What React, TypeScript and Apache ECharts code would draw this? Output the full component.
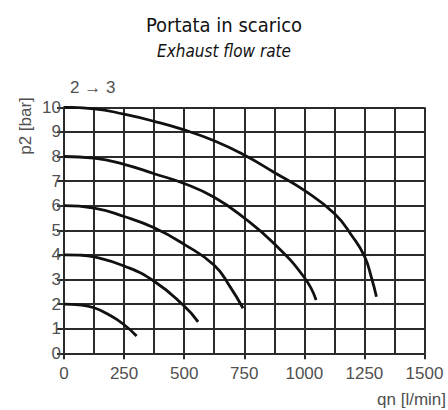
import React, { useEffect, useRef } from "react";
import * as echarts from "echarts";

const titleText = "Portata in scarico";
const subtitleText = "Exhaust flow rate";
const xAxisName = "qn [l/min]";
const yAxisName = "p2 [bar]";
const connectionLabel = "2 → 3";

const xMin = 0;
const xMax = 1500;
const xLabelStep = 250;
const yMin = 0;
const yMax = 10;
const yStep = 1;

const curveP2: [number, number][] = [[0, 2], [62, 1.97], [125, 1.85], [190, 1.55], [249, 1.17], [302, 0.7]];
const curveP4: [number, number][] = [[0, 4], [62, 3.99], [125, 3.92], [250, 3.55], [375, 2.93], [500, 1.92], [558, 1.28]];
const curveP6: [number, number][] = [[0, 6], [125, 5.9], [250, 5.56], [375, 5.1], [500, 4.43], [625, 3.58], [690, 2.72], [745, 1.83]];
const curveP8: [number, number][] = [[0, 8], [125, 7.93], [250, 7.68], [375, 7.3], [500, 6.9], [625, 6.34], [750, 5.5], [875, 4.45], [1000, 3.08], [1049, 2.17]];
const curveP10: [number, number][] = [[0, 10], [125, 9.94], [250, 9.72], [375, 9.43], [500, 9.08], [625, 8.64], [750, 8.06], [875, 7.35], [1000, 6.62], [1125, 5.68], [1200, 4.75], [1250, 3.95], [1280, 3.05], [1300, 2.3]];

const curves = [curveP2, curveP4, curveP6, curveP8, curveP10];

export default function App() {
  const ref = useRef<HTMLDivElement>(null);
  useEffect(() => {
    if (!ref.current) return;
    const chart = echarts.init(ref.current, null, { renderer: "svg" });
    const gridColor = "#2b2b2b";
    const labelColor = "#505050";
    const sans = "'Liberation Sans', Arial, sans-serif";
    const narrow = "'DejaVu Sans Condensed', sans-serif";
    chart.setOption({
      animation: false,
      backgroundColor: "#ffffff",
      title: [
        {
          text: titleText,
          left: "center",
          top: 10,
          textStyle: { fontFamily: narrow, fontSize: 20, fontWeight: "normal", color: "#111" },
        },
        {
          text: subtitleText,
          left: "center",
          top: 37,
          textStyle: { fontFamily: narrow, fontSize: 17, fontWeight: "normal", fontStyle: "italic", color: "#111" },
        },
      ],
      grid: { left: 64, right: 23.5, top: 107.3, bottom: 56.7, containLabel: false },
      xAxis: {
        type: "value",
        min: xMin,
        max: xMax,
        interval: xLabelStep,
        axisLine: { show: true, lineStyle: { color: gridColor, width: 2 } },
        axisTick: { show: true, length: 6, lineStyle: { color: gridColor, width: 2 } },
        axisLabel: { color: labelColor, fontFamily: sans, fontSize: 17, margin: 12, formatter: (v: number) => String(v) },
        splitLine: { show: true, lineStyle: { color: gridColor, width: 2 } },
        minorTick: { show: false, splitNumber: 2 },
        minorSplitLine: { show: true, lineStyle: { color: gridColor, width: 2 } },
      },
      yAxis: {
        type: "value",
        min: yMin,
        max: yMax,
        interval: yStep,
        axisLine: { show: true, lineStyle: { color: gridColor, width: 2 } },
        axisTick: { show: true, length: 7, lineStyle: { color: gridColor, width: 2 } },
        axisLabel: { color: labelColor, fontFamily: sans, fontSize: 17, margin: 3, formatter: (v: number) => String(v) },
        splitLine: { show: true, lineStyle: { color: gridColor, width: 2 } },
      },
      graphic: [
        {
          type: "text",
          left: 70,
          top: 79,
          style: { text: connectionLabel, fill: labelColor, font: `17px ${sans}` },
        },
        {
          type: "text",
          x: 25,
          y: 126,
          rotation: Math.PI / 2,
          style: { text: yAxisName, fill: labelColor, font: `17px ${sans}`, align: "center", verticalAlign: "middle" },
        },
        {
          type: "text",
          right: 2,
          top: 391,
          style: { text: xAxisName, fill: labelColor, font: `17px ${sans}` },
        },
      ],
      series: curves.map((c) => ({
        type: "line",
        data: c,
        smooth: 0.5,
        showSymbol: false,
        symbol: "none",
        lineStyle: { color: "#111", width: 2.8 },
        z: 5,
      })),
    });
    return () => chart.dispose();
  }, []);
  return <div ref={ref} style={{ position: "fixed", left: 0, top: 0, width: 448, height: 410 }} />;
}
